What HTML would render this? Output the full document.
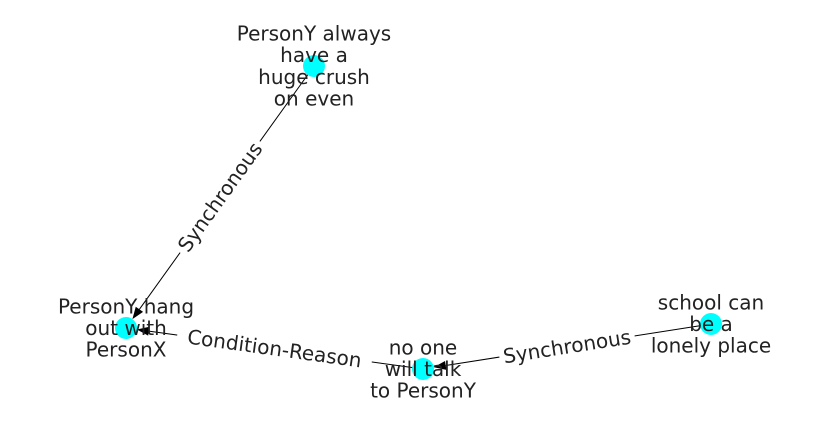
<!DOCTYPE html>
<html><head><meta charset="utf-8">
<style>
html,body{margin:0;padding:0;background:#fff;}
svg{display:block;}
text{font-family:"DejaVu Sans","Liberation Sans",sans-serif;font-size:20px;fill:#222;}
</style></head>
<body>
<svg id="g" width="837" height="434" viewBox="0 0 837 434"></svg>
<script>
const nodeNames = ["A","B","C","D"];
const nodeX = [314,126,423,711];
const nodeY = [66,328,369,324];
const nodeLabels = [
  ["PersonY always","have a","huge crush","on even"],
  ["PersonY hang","out with","PersonX"],
  ["no one","will talk","to PersonY"],
  ["school can","be a","lonely place"]
];
const edgeSource = [0,2,3];
const edgeTarget = [1,1,2];
const edgeLabels = ["Synchronous","Condition-Reason","Synchronous"];

const NS="http://www.w3.org/2000/svg";
const svg=document.getElementById('g');
function mk(t,a){const e=document.createElementNS(NS,t);for(const k in a)e.setAttribute(k,a[k]);return e;}
const R=11;
edgeSource.forEach((s,i)=>{
  const t=edgeTarget[i];
  const x1=nodeX[s],y1=nodeY[s],x2=nodeX[t],y2=nodeY[t];
  const dx=x2-x1,dy=y2-y1,L=Math.hypot(dx,dy),ux=dx/L,uy=dy/L;
  const tx=x2-ux*R,ty=y2-uy*R;
  const bx=tx-ux*12,by=ty-uy*12;
  const line=mk('line',{x1:x1,y1:y1,x2:bx,y2:by,stroke:'#000','stroke-width':1});
  
  
  svg.appendChild(line);
  const px=-uy,py=ux;
  const head=mk('polygon',{points:`${tx},${ty} ${bx+px*4.5},${by+py*4.5} ${bx-px*4.5},${by-py*4.5}`,fill:'#000'});
  
  
  svg.appendChild(head);
});
nodeX.forEach((x,i)=>{
  const c=mk('circle',{cx:x,cy:nodeY[i],r:R,fill:'#00ffff'});
  
  
  svg.appendChild(c);
});
edgeSource.forEach((s,i)=>{
  const t=edgeTarget[i];
  let x1=nodeX[s],y1=nodeY[s],x2=nodeX[t],y2=nodeY[t];
  const mx=(x1+x2)/2,my=(y1+y2)/2;
  let ang=Math.atan2(y2-y1,x2-x1)*180/Math.PI;
  if(ang>90)ang-=180; if(ang<-90)ang+=180;
  const g=mk('g',{transform:`translate(${mx},${my}) rotate(${ang})`});
  
  
  const w=edgeLabels[i].length*11.9+6;
  const bg=mk('rect',{x:-w/2,y:-13,width:w,height:26,fill:'#fff'});
  
  
  g.appendChild(bg);
  const tx=mk('text',{x:0,y:7,'text-anchor':'middle'});
  
  
  tx.textContent=edgeLabels[i];
  g.appendChild(tx);
  svg.appendChild(g);
});
nodeLabels.forEach((lines,i)=>{
  const n=lines.length,lh=21.7;
  lines.forEach((l,j)=>{
    const y=nodeY[i]+(j-(n-1)/2)*lh+7;
    const t=mk('text',{x:nodeX[i],y:y,'text-anchor':'middle'});
    
    
    t.textContent=l;
    svg.appendChild(t);
  });
});
</script>
</body></html>
